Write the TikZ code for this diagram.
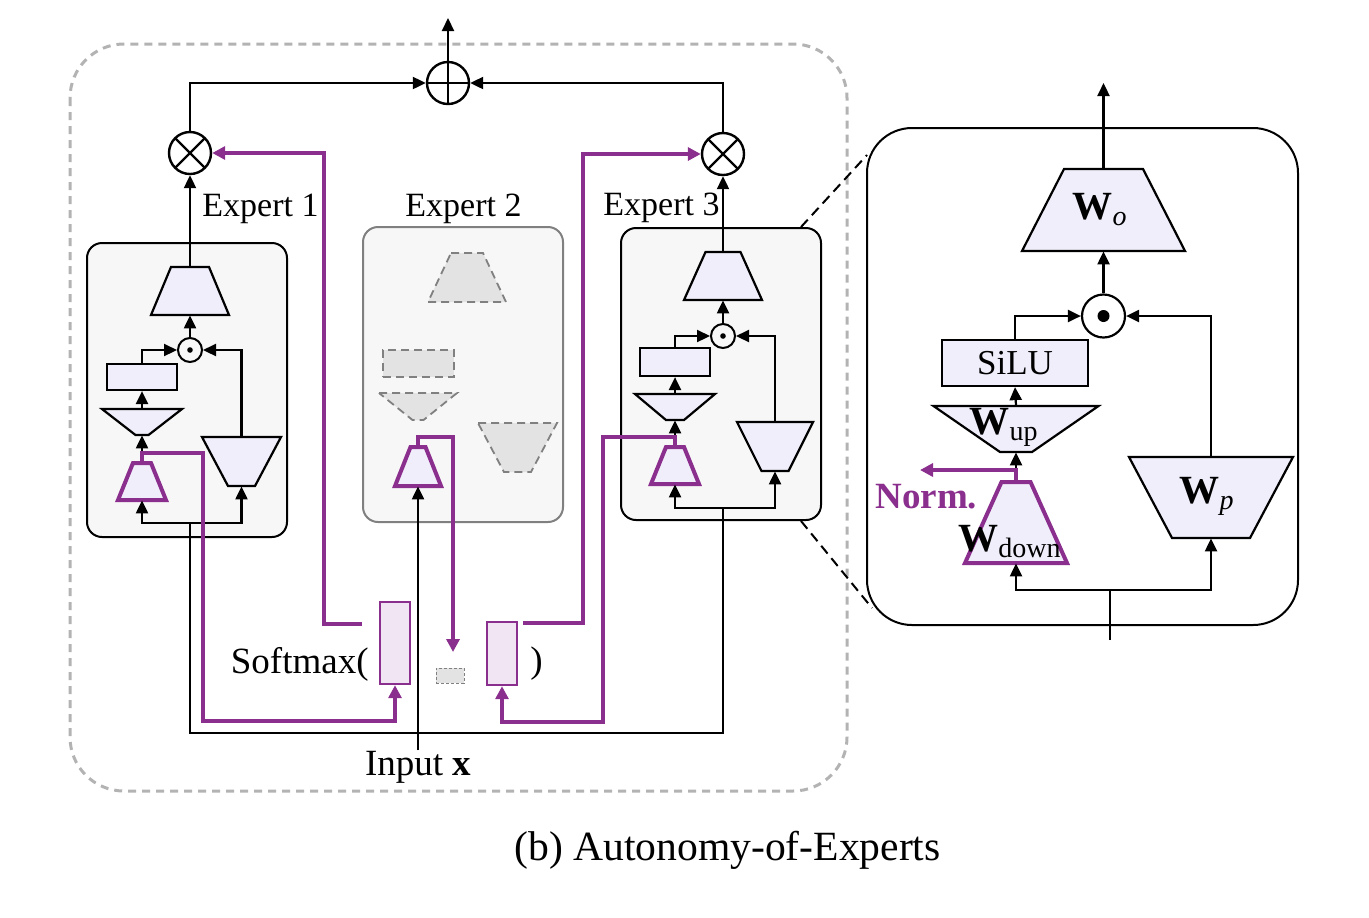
\documentclass[tikz,border=0pt]{standalone}
\usepackage{fontspec}
\setmainfont{Liberation Serif}
\usetikzlibrary{calc,arrows.meta}
\definecolor{aoepurple}{HTML}{8B2F8F}
\definecolor{trapfill}{HTML}{F1EEFB}
\definecolor{barfill}{HTML}{F2E5F3}
\definecolor{boxfill}{HTML}{F7F7F7}
\definecolor{ghostfill}{HTML}{E3E3E3}
\definecolor{ghostline}{HTML}{808080}
\definecolor{outerdash}{HTML}{B3B3B3}
\newcommand{\bigfont}{\fontsize{18.5}{22}\selectfont}
\newcommand{\wfont}{\fontsize{20}{23}\selectfont}
% trapezoid: [style](name)(centre)(top width:bottom width:height), all in px
\def\trap[#1](#2)(#3)(#4:#5:#6){\draw[#1] ($(#3)+(-#4/2,-#6/2)$) -- ($(#3)+(#4/2,-#6/2)$) -- ($(#3)+(#5/2,#6/2)$) -- ($(#3)+(-#5/2,#6/2)$) -- cycle;
	\node[inner sep=0pt, minimum width={max(#4,#5)*0.5pt}, minimum height={#6*0.5pt}] (#2) at (#3) {};}
\tikzset{
	line/.style={line width=1.1pt},
	arr/.style={line width=1.1pt, -{Triangle[length=6.5pt,width=6pt]}},
	plink/.style={aoepurple, line width=2.2pt},
	parr/.style={-{Triangle[length=6.5pt,width=6.5pt]}},
	txt/.style={inner sep=0pt},
	trapshape/.style={draw, fill=trapfill, line width=1.1pt},
	ptrap/.style={draw=aoepurple, fill=trapfill, line width=2pt},
	ghost/.style={draw=ghostline, fill=ghostfill, dash pattern=on 4pt off 2.5pt, line width=0.9pt},
	expbox/.style={draw, fill=boxfill, rounded corners=7.5pt, line width=1pt, inner sep=0pt},
	silubox/.style={draw, fill=trapfill, line width=1.1pt, inner sep=0pt},
	bar/.style={draw=aoepurple, fill=barfill, line width=1.2pt, inner sep=0pt},
	zoomline/.style={line width=1pt, dash pattern=on 5pt off 3pt},
	otimes/.style={circle, draw, line width=1.2pt, minimum size=21pt, inner sep=0pt,
		path picture={\draw[line width=1.2pt] (path picture bounding box.north east) -- (path picture bounding box.south west) (path picture bounding box.north west) -- (path picture bounding box.south east);}},
	oplus/.style={circle, draw, line width=1.2pt, minimum size=21pt, inner sep=0pt,
		path picture={\draw[line width=1.2pt] (path picture bounding box.north) -- (path picture bounding box.south) (path picture bounding box.west) -- (path picture bounding box.east);}},
	odot/.style={circle, draw, line width=1pt, minimum size=12pt, inner sep=0pt,
		path picture={\fill (path picture bounding box.center) circle (1.4pt);}},
	bigodot/.style={circle, draw, line width=1.1pt, minimum size=21.5pt, inner sep=0pt,
		path picture={\fill (path picture bounding box.center) circle (3pt);}}
}
\begin{document}
\begin{tikzpicture}[x=0.5pt,y=-0.5pt,font=\fontsize{17}{20}\selectfont]
	\useasboundingbox (0,0) rectangle (1369,917);
	%%%%% START %%%%%
	\draw[outerdash, line width=1.5pt, dash pattern=on 4pt off 3pt, rounded corners=27pt] (70,44) rectangle (847,791);
	
	\node[expbox, minimum width=100pt, minimum height=147pt] (box1) at (187,390) {};
	\node[expbox, draw=ghostline, minimum width=100pt, minimum height=147.5pt] (box2) at (463,374.5) {};
	\node[expbox, minimum width=100pt, minimum height=146pt] (box3) at (721,374) {};
	\node[expbox, fill=white, rounded corners=22.5pt, minimum width=215.5pt, minimum height=248.5pt] (zoombox) at (1082.5,376.5) {};
	
	\node[txt, anchor=base west] (lab1) at (202,216) {Expert 1};
	\node[txt, anchor=base west] (lab2) at (405,216) {Expert 2};
	\node[txt, anchor=base west] (lab3) at (603,215) {Expert 3};
	
	% top
	\node[oplus] (sum) at (448,83) {};
	\node[otimes] (ot1) at (190,153) {};
	\node[otimes] (ot3) at (723,154) {};
	\coordinate (out) at (448,18);
	\draw[arr] (sum.north) -- (out);
	\draw[arr] (ot1.north) |- (sum.west);
	\draw[arr] (ot3.north) |- (sum.east);
	
	% expert 1
	\trap[trapshape](e1o)(190,291)(38:78:48)
	\node[odot] (e1d) at (190,350) {};
	\node[silubox, minimum width=35pt, minimum height=13pt] (e1s) at (142,377) {};
	\trap[trapshape](e1u)(142,422)(80:13:26)
	\trap[ptrap](e1w)(142,481.5)(18:48:37)
	\trap[trapshape](e1p)(241.5,461.5)(79:27:49)
	\coordinate (e1in) at (190,523);
	\draw[arr] (e1o.north) -- (ot1.south);
	\draw[arr] (e1d.north) -- (e1o.south);
	\draw[arr] (e1s.north) |- (e1d.west);
	\draw[arr] (e1u.north) -- (e1s.south);
	\draw[arr] (e1w.north) -- (e1u.south);
	\draw[arr] (e1p.north) |- (e1d.east);
	\draw[arr] (e1in) -| (e1w.south);
	\draw[arr] (e1in) -| (e1p.south);
	
	% expert 2
	\trap[ghost](e2o)(467,277.5)(32:78:49)
	\node[ghost, inner sep=0pt, minimum width=35.5pt, minimum height=13.5pt] (e2s) at (418.5,363.5) {};
	\trap[ghost](e2u)(418,406.5)(78:11:27)
	\trap[ghost](e2p)(517.5,447.5)(79:27:49)
	\trap[ptrap](e2w)(418,466.5)(15:46:39)
	
	% expert 3
	\trap[trapshape](e3o)(723,276)(35:78:48)
	\node[odot] (e3d) at (723,336) {};
	\node[silubox, minimum width=35pt, minimum height=14pt] (e3s) at (675,362) {};
	\trap[trapshape](e3u)(675,407)(80:18:26)
	\trap[ptrap](e3w)(675,465.5)(18:48:37)
	\trap[trapshape](e3p)(775,446.5)(76:27:49)
	\coordinate (e3in) at (723,508);
	\draw[arr] (e3o.north) -- (ot3.south);
	\draw[arr] (e3d.north) -- (e3o.south);
	\draw[arr] (e3s.north) |- (e3d.west);
	\draw[arr] (e3u.north) -- (e3s.south);
	\draw[arr] (e3w.north) -- (e3u.south);
	\draw[arr] (e3p.north) |- (e3d.east);
	\draw[arr] (e3in) -| (e3w.south);
	\draw[arr] (e3in) -| (e3p.south);
	
	% gate scores
	\node[bar, minimum width=15pt, minimum height=41pt] (g1) at (395,643) {};
	\node[draw=ghostline, fill=ghostfill, dash pattern=on 1.5pt off 1pt, line width=0.5pt, inner sep=0pt, minimum width=14pt, minimum height=7.5pt] (g2) at (450,675.5) {};
	\node[bar, minimum width=15pt, minimum height=31.5pt] (g3) at (502,653.5) {};
	\node[txt, font=\bigfont, anchor=base east] (smax) at (369,673) {Softmax(};
	\node[txt, font=\bigfont, anchor=base west] (rpar) at (530,672) {)};
	\node[txt, font=\bigfont, anchor=base] (inp) at (418,775) {Input $\mathbf{x}$};
	
	\coordinate (bus1) at (190,733);
	\coordinate (bus3) at (723,733);
	\draw[line] (e1in) -- (bus1) -- (bus3) -- (e3in);
	\draw[arr] (inp.north) -- (e2w.south);
	
	% routing
	\coordinate (p1a) at (142,453);
	\coordinate (p1b) at (203,721);
	\draw[plink, parr] (e1w.north) -- (p1a) -| (p1b) -| (g1.south);
	\coordinate (p2a) at (362,624);
	\coordinate (p2b) at (324,624);
	\draw[plink, parr] (p2a) -- (p2b) |- (ot1.east);
	\coordinate (p3a) at (418,437);
	\coordinate (p3b) at (453,652);
	\draw[plink, parr] (e2w.north) -- (p3a) -| (p3b);
	\coordinate (p4a) at (523,623);
	\coordinate (p4b) at (583,623);
	\draw[plink, parr] (p4a) -- (p4b) |- (ot3.west);
	\coordinate (p5a) at (675,437);
	\coordinate (p5b) at (603,722);
	\draw[plink, parr] (e3w.north) -- (p5a) -| (p5b) -| (g3.south);
	
	\draw[zoomline] ($(box3.north east)+(-21,0)$) -- ($(zoombox.north west)+(1,28)$);
	\draw[zoomline] ($(box3.south east)+(-21,0)$) -- ($(zoombox.south west)+(6,-18)$);
	
	% zoomed expert
	\trap[trapshape](wo)(1103.5,210)(79:163:82)
	\node[bigodot] (dot) at (1103.5,316) {};
	\node[silubox, minimum width=73pt, minimum height=23pt, font=\fontsize{17.5}{20}\selectfont] (silu) at (1015,363) {SiLU};
	\trap[trapshape](wup)(1016,429)(165:32:46)
	\trap[ptrap](wdown)(1016,522.5)(29:102:81)
	\trap[trapshape](wp)(1211,497.5)(164:78:81)
	\node[txt, font=\wfont, anchor=base] (wo-l) at (1100,219) {$\mathbf{W}_{\mathit{o}}$};
	\node[txt, font=\wfont, anchor=base] (wup-l) at (1004,434) {$\mathbf{W}_{\mathrm{up}}$};
	\node[txt, font=\wfont, anchor=base] (wdown-l) at (1010,551) {$\mathbf{W}_{\mathrm{down}}$};
	\node[txt, font=\wfont, anchor=base] (wp-l) at (1207,503) {$\mathbf{W}_{\mathit{p}}$};
	\coordinate (zout) at (1103.5,83);
	\coordinate (zin) at (1110,590);
	\coordinate (zsrc) at (1110,640);
	\draw[arr] (wo.north) -- (zout);
	\draw[arr] (dot.north) -- (wo.south);
	\draw[arr] (silu.north) |- (dot.west);
	\draw[arr] (wup.north) -- (silu.south);
	\draw[arr] (wdown.north) -- (wup.south);
	\draw[arr] (wp.north) |- (dot.east);
	\draw[line] (zsrc) -- (zin);
	\draw[arr] (zin) -| (wdown.south);
	\draw[arr] (zin) -| (wp.south);
	\coordinate (na) at (1016,470);
	\coordinate (nb) at (920,470);
	\draw[plink, parr] (wdown.north) -- (na) -- (nb);
	\node[txt, text=aoepurple, font=\bigfont\bfseries, anchor=base west] (norm) at (875,508) {Norm.};
	
	\node[txt, font=\fontsize{20.8}{24}\selectfont, anchor=base] (cap) at (727.5,860) {(b) Autonomy-of-Experts};
	%%%%% END %%%%%
\end{tikzpicture}
\end{document}
